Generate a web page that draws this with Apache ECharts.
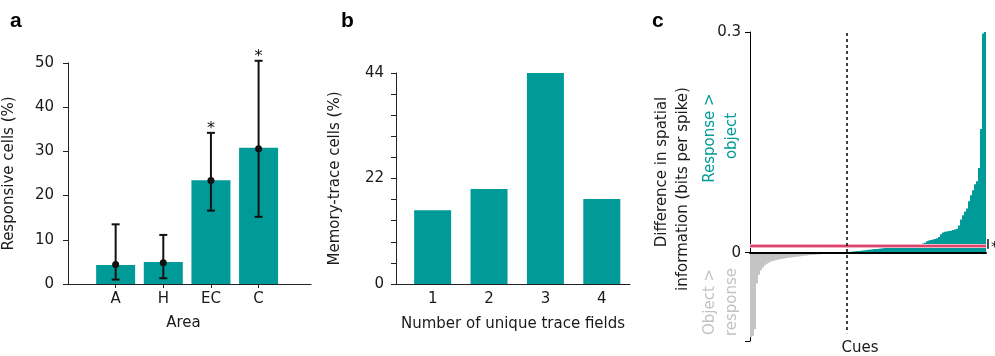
<!DOCTYPE html>
<html>
<head>
<meta charset="utf-8">
<script src="https://cdn.jsdelivr.net/npm/echarts@6/dist/echarts.min.js"></script>
<style>
  html, body { margin: 0; padding: 0; background: #fff; }
  #chart { width: 995px; height: 356px; }
</style>
</head>
<body>
<div id="chart"></div>
<script>
// ---- panel a: responsive cells per area ----
const areaNames = ['A', 'H', 'EC', 'C'];
const respPct = [4.3, 5.0, 23.5, 30.8];
const respMean = [4.4, 4.8, 23.4, 30.6];
const respLow = [1.0, 1.3, 16.6, 15.2];
const respHigh = [13.5, 11.1, 34.2, 50.5];
const respSig = ['', '', '*', '*'];

// ---- panel b: memory-trace cells by number of trace fields ----
const traceFieldCounts = ['1', '2', '3', '4'];
const tracePct = [15.4, 19.8, 44, 17.7];

// ---- panel c: sorted difference in spatial information (response - object) ----
const siDiff = [
  -0.115, -0.113, -0.104, -0.042, -0.03, -0.024, -0.02, -0.017, -0.015, -0.0135,
  -0.012, -0.0112, -0.0105, -0.0098, -0.0092, -0.0087, -0.0082, -0.0078, -0.0073, -0.0069,
  -0.0065, -0.0061, -0.0057, -0.0054, -0.005, -0.0047, -0.0044, -0.0041, -0.0038, -0.0035,
  -0.0032, -0.003, -0.0027, -0.0025, -0.0023, -0.0021, -0.0019, -0.0017, -0.0015, -0.0013,
  -0.0011, -0.001, -0.0008, -0.0007, -0.0005, -0.0004, -0.0003, -0.0001,
  0.0004, 0.0008, 0.0012, 0.0016, 0.0019, 0.0022, 0.0025, 0.0028, 0.0031, 0.0034,
  0.0037, 0.004, 0.0043, 0.0046, 0.0049, 0.0052, 0.0055, 0.0058, 0.006, 0.0063,
  0.0066, 0.0069, 0.0072, 0.0075, 0.0078, 0.0081, 0.0084, 0.0087, 0.009, 0.0093,
  0.0096, 0.0099, 0.0102, 0.0105, 0.0108, 0.011, 0.0113, 0.0118, 0.0125, 0.0135,
  0.0155, 0.0165, 0.0172, 0.0178, 0.0185, 0.0195, 0.0215, 0.025, 0.0275, 0.0285,
  0.029, 0.0295, 0.03, 0.031, 0.0315, 0.0325, 0.037, 0.045, 0.051, 0.056,
  0.06, 0.07, 0.078, 0.085, 0.093, 0.097, 0.115, 0.168, 0.298, 0.3
];
const siMean = 0.0122;
const siMeanLow = 0.0055;
const siMeanHigh = 0.0185;
const cueLineTop = 0.2985;
const cueLineBottom = -0.1095;

const TEAL = '#009b98';
const GREY_BAR = '#c4c4c4';
const GREY_TXT = '#c2c2c2';
const AXIS = '#222';
const FONT = 'DejaVu Sans';
const txt = { fontFamily: FONT, fontSize: 15, color: '#1a1a1a' };

const cueIdx = siDiff.findIndex((v) => v > 0);
const lastIdx = siDiff.length - 1;

const chart = echarts.init(document.getElementById('chart'));

// error bar (vertical line + caps) with an optional significance star on top
function errBar(params, api) {
  const x = api.value(0);
  const lo = api.coord([x, api.value(1)]);
  const hi = api.coord([x, api.value(2)]);
  const cap = 4;
  const st = { stroke: '#111', lineWidth: 2 };
  return {
    type: 'group',
    children: [
      { type: 'line', shape: { x1: lo[0], y1: lo[1], x2: hi[0], y2: hi[1] }, style: st },
      { type: 'line', shape: { x1: lo[0] - cap, y1: lo[1], x2: lo[0] + cap, y2: lo[1] }, style: st },
      { type: 'line', shape: { x1: hi[0] - cap, y1: hi[1], x2: hi[0] + cap, y2: hi[1] }, style: st },
      {
        type: 'text',
        style: {
          text: respSig[params.dataIndex], x: hi[0], y: hi[1] - 4,
          align: 'center', verticalAlign: 'middle',
          font: '16px "DejaVu Sans"', fill: '#111'
        }
      }
    ]
  };
}

// small error bar of the mean at the right edge of panel c
function meanErr(params, api) {
  const x = api.value(0);
  const lo = api.coord([x, api.value(1)]);
  const hi = api.coord([x, api.value(2)]);
  const px = lo[0] + 3;
  return {
    type: 'group',
    children: [
      { type: 'line', shape: { x1: px, y1: lo[1], x2: px, y2: hi[1] }, style: { stroke: '#111', lineWidth: 1.5 } },
      {
        type: 'text',
        style: {
          text: '*', x: px + 3, y: (lo[1] + hi[1]) / 2 + 3,
          align: 'left', verticalAlign: 'middle',
          font: '14px "DejaVu Sans"', fill: '#111'
        }
      }
    ]
  };
}

const rot = Math.PI / 2;
function sideText(text, x, y, color) {
  return {
    type: 'text', x, y, rotation: rot,
    style: { text, fill: color, font: '15px "DejaVu Sans"', align: 'center', verticalAlign: 'middle' }
  };
}
function panelLetter(text, x) {
  return {
    type: 'text', x, y: 21,
    style: { text, fill: '#000', font: 'bold 21px "Liberation Sans"', align: 'left', verticalAlign: 'middle' }
  };
}

chart.setOption({
  animation: false,
  textStyle: { fontFamily: FONT },
  grid: [
    { left: 68, top: 63, right: 684, bottom: 72 },
    { left: 396, top: 73, right: 365, bottom: 72 },
    { left: 750, top: 32, right: 9, bottom: 15 }
  ],
  xAxis: [
    {
      gridIndex: 0, type: 'value', min: 0, max: 5.1,
      splitLine: { show: false },
      axisLine: { lineStyle: { color: AXIS } },
      axisTick: { customValues: [1, 2, 3, 4], length: 4, lineStyle: { color: AXIS } },
      axisLabel: { customValues: [1, 2, 3, 4], formatter: (v) => areaNames[v - 1], margin: 8, ...txt },
      name: 'Area', nameLocation: 'middle', nameGap: 32,
      nameTextStyle: { ...txt, padding: [0, 12, 0, 0] }
    },
    {
      gridIndex: 1, type: 'value', min: 0.35, max: 4.5,
      splitLine: { show: false },
      axisLine: { lineStyle: { color: AXIS } },
      axisTick: { show: false },
      axisLabel: { customValues: [1, 2, 3, 4], formatter: (v) => traceFieldCounts[v - 1], margin: 8, ...txt },
      name: 'Number of unique trace fields', nameLocation: 'middle', nameGap: 33,
      nameTextStyle: { ...txt }
    },
    {
      gridIndex: 2, type: 'category', data: siDiff.map((_, i) => i), z: 3,
      axisLine: { onZero: true, lineStyle: { color: '#000', width: 2 } },
      axisTick: { show: false },
      axisLabel: { show: false }
    }
  ],
  yAxis: [
    {
      gridIndex: 0, type: 'value', min: 0, max: 50, interval: 10,
      splitLine: { show: false },
      axisLine: { show: true, lineStyle: { color: AXIS } },
      axisTick: { show: true, length: 5, lineStyle: { color: AXIS } },
      axisLabel: { margin: 14, ...txt },
      name: 'Responsive cells (%)', nameLocation: 'middle', nameGap: 51,
      nameTextStyle: { ...txt }
    },
    {
      gridIndex: 1, type: 'value', min: 0, max: 44, interval: 4.4,
      splitLine: { show: false },
      axisLine: { show: true, lineStyle: { color: AXIS } },
      axisTick: { show: true, length: 5, lineStyle: { color: AXIS } },
      axisLabel: { customValues: [0, 22, 44], margin: 12, ...txt },
      name: 'Memory-trace cells (%)', nameLocation: 'middle', nameGap: 53,
      nameTextStyle: { ...txt }
    },
    {
      gridIndex: 2, type: 'value', min: -0.12, max: 0.3,
      splitLine: { show: false },
      axisLine: { show: true, lineStyle: { color: '#000' } },
      axisTick: { show: true, customValues: [-0.12, 0, 0.3], length: 5, lineStyle: { color: '#000' } },
      axisLabel: { customValues: [0, 0.3], margin: 9, ...txt }
    }
  ],
  series: [
    {
      type: 'bar', xAxisIndex: 0, yAxisIndex: 0, barWidth: 39,
      itemStyle: { color: TEAL },
      data: respPct.map((v, i) => [i + 1, v])
    },
    {
      type: 'custom', xAxisIndex: 0, yAxisIndex: 0, renderItem: errBar, z: 5,
      data: respLow.map((v, i) => [i + 1, v, respHigh[i]])
    },
    {
      type: 'scatter', xAxisIndex: 0, yAxisIndex: 0, symbolSize: 7, z: 6,
      itemStyle: { color: '#111', opacity: 1 },
      data: respMean.map((v, i) => [i + 1, v])
    },
    {
      type: 'bar', xAxisIndex: 1, yAxisIndex: 1, barWidth: 37,
      itemStyle: { color: TEAL },
      data: tracePct.map((v, i) => [i + 1, v])
    },
    {
      type: 'bar', xAxisIndex: 2, yAxisIndex: 2, barWidth: '100%',
      data: siDiff.map((v) => ({ value: v, itemStyle: { color: v < 0 ? GREY_BAR : TEAL } })),
      markLine: {
        silent: true, symbol: ['none', 'none'], label: { show: false },
        data: [
          { yAxis: siMean, lineStyle: { color: '#f3b0c0', width: 4, type: 'solid' } },
          { yAxis: siMean, lineStyle: { color: '#d81e4e', width: 1.6, type: 'solid' } },
          [
            { coord: [cueIdx, cueLineTop], lineStyle: { color: '#000', width: 1.5, type: [3, 3] } },
            { coord: [cueIdx, cueLineBottom] }
          ]
        ]
      }
    },
    {
      type: 'custom', xAxisIndex: 2, yAxisIndex: 2, renderItem: meanErr, clip: false, z: 6,
      data: [[lastIdx, siMeanLow, siMeanHigh]]
    }
  ],
  graphic: [
    panelLetter('a', 10),
    panelLetter('b', 341),
    panelLetter('c', 652),
    sideText('Difference in spatial', 662, 172, '#1a1a1a'),
    sideText('information (bits per spike)', 683, 189, '#1a1a1a'),
    sideText('Response >', 710, 138, TEAL),
    sideText('object', 732, 136, TEAL),
    sideText('Object >', 710, 302, GREY_TXT),
    sideText('response', 732, 302, GREY_TXT),
    {
      type: 'text', x: 860, y: 348,
      style: { text: 'Cues', fill: '#1a1a1a', font: '15px "DejaVu Sans"', align: 'center', verticalAlign: 'middle' }
    }
  ]
});
</script>
</body>
</html>
